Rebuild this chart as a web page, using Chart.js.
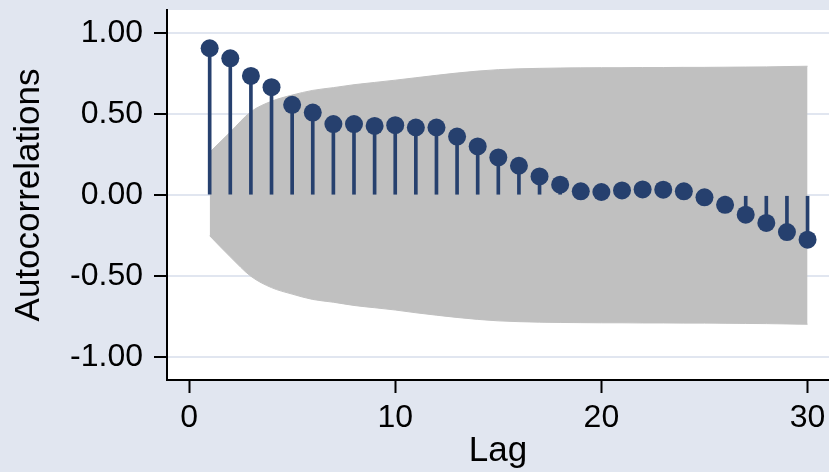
<!DOCTYPE html>
<html>
<head>
<meta charset="utf-8">
<script src="https://cdn.jsdelivr.net/npm/chart.js@4.4.1/dist/chart.umd.min.js"></script>
<style>
    html, body { margin: 0; padding: 0; background: #E1E6F0; }
    #wrap { width: 829px; height: 472px; position: relative; }
</style>
</head>
<body>
<div id="wrap"><canvas id="acfChart"></canvas></div>
<script>
// ACF plot data
const lags = [1, 2, 3, 4, 5, 6, 7, 8, 9, 10, 11, 12, 13, 14, 15,
              16, 17, 18, 19, 20, 21, 22, 23, 24, 25, 26, 27, 28, 29, 30];
const acf = [0.907, 0.845, 0.736, 0.667, 0.558, 0.510, 0.439, 0.439, 0.428, 0.432,
             0.418, 0.418, 0.362, 0.301, 0.233, 0.182, 0.116, 0.065, 0.024, 0.020,
             0.030, 0.036, 0.034, 0.024, -0.013, -0.059, -0.120, -0.171, -0.227, -0.274];
const bandUpper = [0.265, 0.39, 0.515, 0.58, 0.618, 0.647, 0.664, 0.682, 0.696, 0.71,
                   0.725, 0.74, 0.754, 0.766, 0.775, 0.78, 0.783, 0.785, 0.786, 0.787,
                   0.787, 0.788, 0.788, 0.789, 0.789, 0.79, 0.791, 0.792, 0.794, 0.796];
const bandLower = [-0.25, -0.38, -0.5, -0.57, -0.61, -0.643, -0.66, -0.68, -0.694, -0.708,
                   -0.725, -0.74, -0.754, -0.766, -0.775, -0.78, -0.783, -0.785, -0.786, -0.787,
                   -0.787, -0.788, -0.788, -0.789, -0.789, -0.79, -0.791, -0.792, -0.794, -0.796];
const xTicks = [0, 10, 20, 30];
const yTicks = [-1, -0.5, 0, 0.5, 1];
const yTickLabels = ['-1.00', '-0.50', '0.00', '0.50', '1.00'];

const navy = '#26406E';
const bandGray = '#C0C0C0';
const fontFamily = '"Liberation Sans", Arial, Helvetica, sans-serif';

// white plot region on the blue-grey page
const plotBg = {
    id: 'plotBg',
    beforeDraw(chart) {
        const { ctx, chartArea: a } = chart;
        ctx.save();
        ctx.fillStyle = '#FFFFFF';
        ctx.fillRect(a.left, a.top, a.right - a.left, a.bottom - a.top);
        ctx.restore();
    }
};

const pts = arr => lags.map((l, i) => ({ x: l, y: arr[i] }));

// no extra room for edge labels, the plot runs to the canvas edge
function noPad(s) {
    s.paddingTop = 0;
    s.paddingBottom = 0;
    s.paddingLeft = 0;
    s.paddingRight = 0;
}

new Chart(document.getElementById('acfChart'), {
    type: 'line',
    data: {
        datasets: [{
            type: 'scatter',
            label: 'ACF',
            data: pts(acf),
            pointRadius: 9,
            pointBackgroundColor: navy,
            pointBorderWidth: 0,
            showLine: false,
            order: 0
        }, {
            type: 'bar',
            label: 'stems',
            data: pts(acf),
            backgroundColor: navy,
            barThickness: 3,
            order: 1
        }, {
            label: 'upper',
            data: pts(bandUpper),
            borderColor: bandGray,
            borderWidth: 1,
            backgroundColor: bandGray,
            pointRadius: 0,
            cubicInterpolationMode: 'monotone',
            fill: '+1',
            order: 2
        }, {
            label: 'lower',
            data: pts(bandLower),
            borderColor: bandGray,
            borderWidth: 1,
            pointRadius: 0,
            cubicInterpolationMode: 'monotone',
            fill: false,
            order: 3
        }]
    },
    options: {
        responsive: true,
        maintainAspectRatio: false,
        animation: false,
        layout: { autoPadding: false, padding: { top: 10, right: 0, left: 0, bottom: 0 } },
        plugins: { legend: { display: false }, tooltip: { enabled: false } },
        scales: {
            x: {
                type: 'linear',
                min: -1.07,
                max: 31.04,
                offset: false,
                afterBuildTicks: s => { s.ticks = xTicks.map(v => ({ value: v })); },
                afterFit: s => { s.height = 92; noPad(s); },
                grid: { offset: false, drawOnChartArea: false, tickLength: 13, tickColor: '#000', tickWidth: 2 },
                border: { color: '#000', width: 2 },
                ticks: {
                    color: '#000',
                    autoSkip: false,
                    maxRotation: 0,
                    padding: 6,
                    font: { family: fontFamily, size: 32 },
                    callback: v => String(v)
                },
                title: {
                    display: true,
                    text: 'Lag',
                    color: '#000',
                    font: { family: fontFamily, size: 35 },
                    padding: { top: 0, bottom: 0 }
                }
            },
            y: {
                min: -1.14,
                max: 1.143,
                afterBuildTicks: s => { s.ticks = yTicks.map(v => ({ value: v })); },
                afterFit: s => { s.width = 167; noPad(s); },
                grid: { color: '#E1E6F0', lineWidth: 2, tickLength: 13, tickColor: '#000', tickWidth: 2 },
                border: { color: '#000', width: 2 },
                ticks: {
                    color: '#000',
                    autoSkip: false,
                    padding: 11,
                    font: { family: fontFamily, size: 32 },
                    callback: (v, i) => yTickLabels[i]
                },
                title: {
                    display: true,
                    text: 'Autocorrelations',
                    color: '#000',
                    font: { family: fontFamily, size: 35 },
                    padding: { top: 8, bottom: 0 }
                }
            }
        }
    },
    plugins: [plotBg]
});
</script>
</body>
</html>
